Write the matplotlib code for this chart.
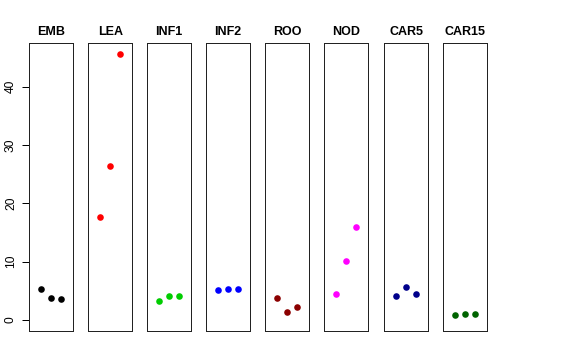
import matplotlib
matplotlib.use("Agg")
import matplotlib.pyplot as plt

tissues = ["EMB", "LEA", "INF1", "INF2", "ROO", "NOD", "CAR5", "CAR15"]
colors = ["black", "red", "#00CD00", "blue", "#8B0000", "magenta", "#00008B", "#006400"]
values = {
    "EMB": [5.4, 3.7, 3.6],
    "LEA": [17.7, 26.4, 45.6],
    "INF1": [3.25, 4.05, 4.2],
    "INF2": [5.1, 5.3, 5.3],
    "ROO": [3.7, 1.4, 2.3],
    "NOD": [4.5, 10.1, 16.0],
    "CAR5": [4.15, 5.7, 4.4],
    "CAR15": [0.85, 1.03, 1.0],
}
reps = [1, 2, 3]
yticks = [0, 10, 20, 30, 40]

plt.rcParams['font.family'] = ['Liberation Sans', 'DejaVu Sans']
W, H = 576, 360
fig = plt.figure(figsize=(8, 5), dpi=72)

lefts = [29, 88, 147, 206, 265, 324, 384, 443]
pw = 44.3
top_px, bot_px = 43.3, 330.7
ymax = max(max(v) for v in values.values())
yr = ymax - 0
for i, (t, c) in enumerate(zip(tissues, colors)):
    ax = fig.add_axes([lefts[i] / W, 1 - bot_px / H, pw / W, (bot_px - top_px) / H])
    ax.plot(reps, values[t], 'o', color=c, markersize=6.6, markeredgewidth=0)
    ax.set_xlim(-0.16, 4.16)
    ax.set_ylim(0 - 0.04 * yr, ymax + 0.04 * yr)
    ax.set_xticks([])
    for s in ax.spines.values():
        s.set_linewidth(1.0)
        s.set_color("#222222")
    ax.set_title(t, fontsize=12.5, fontweight='bold', pad=8)
    if i == 0:
        ax.set_yticks(yticks)
        ax.set_yticklabels([str(v) for v in yticks], rotation=90, va='center', fontsize=12)
        ax.tick_params(axis='y', length=7, width=1, pad=5)
    else:
        ax.set_yticks([])

fig.savefig("out.png", dpi=72)
